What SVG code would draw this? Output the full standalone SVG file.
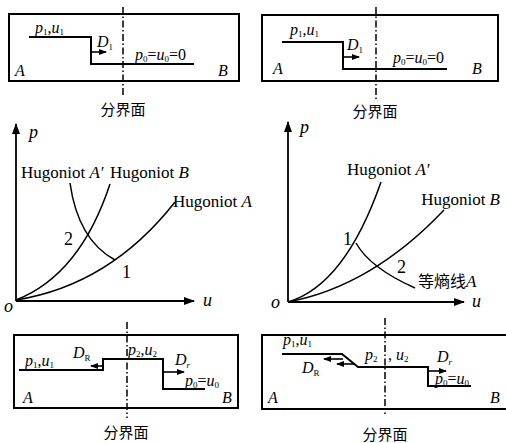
<svg xmlns="http://www.w3.org/2000/svg" width="506" height="443" viewBox="0 0 506 443" font-family="'Liberation Serif', 'Times New Roman', 'DejaVu Serif', serif">
<style>
text{font-family:'Liberation Serif','Times New Roman','DejaVu Serif',serif;fill:#000}
.v{font-size:16px;font-style:italic}
.s{font-size:9px;font-style:normal}
.n{font-size:17px}
.cn{font-family:'Noto Sans CJK SC','Noto Sans CJK JP',sans-serif;font-size:15px}
.box{fill:none;stroke:#000;stroke-width:2}
.step{fill:none;stroke:#000;stroke-width:2}
.dash{stroke:#000;stroke-width:1.5;stroke-dasharray:7 2.5 1.5 2.5}
.cur{fill:none;stroke:#000;stroke-width:1.5}
.arr{stroke:#000;stroke-width:1.6;marker-end:url(#ah)}
.ax{stroke:#000;stroke-width:1.8;marker-end:url(#axh)}
</style>
<defs>
<marker id="ah" markerUnits="userSpaceOnUse" markerWidth="8" markerHeight="6" refX="7" refY="3" orient="auto"><path d="M0,0 L8,3 L0,6 Z" fill="#000"/></marker>
<marker id="axh" markerUnits="userSpaceOnUse" markerWidth="11" markerHeight="8" refX="10" refY="4" orient="auto"><path d="M0,0 L11,4 L0,8 Z" fill="#000"/></marker>
</defs>

<!-- Top-left panel -->
<g id="panel-tl">
<rect class="box" x="9" y="14" width="230" height="67"/>
<line class="dash" x1="123" y1="7" x2="123" y2="95"/>
<path class="step" d="M29,37 H91 V64 H194"/>
<line class="arr" x1="91" y1="52" x2="106" y2="52"/>
<text x="35" y="33" class="v">p<tspan class="s" dy="2">1</tspan><tspan dy="-2" style="font-style:normal">,</tspan>u<tspan class="s" dy="2">1</tspan></text>
<text x="97" y="47" class="v">D<tspan class="s" dy="3">1</tspan></text>
<text x="135" y="60" class="v">p<tspan class="s" dy="2">0</tspan><tspan dy="-2" style="font-style:normal">=</tspan>u<tspan class="s" dy="2">0</tspan><tspan dy="-2" style="font-style:normal">=0</tspan></text>
<text x="15" y="76" class="v">A</text>
<text x="218" y="76" class="v">B</text>
<text x="123" y="115" class="cn" text-anchor="middle">分界面</text>
</g>

<!-- Top-right panel -->
<g id="panel-tr">
<rect class="box" x="262" y="15" width="236" height="66"/>
<line class="dash" x1="376" y1="7" x2="376" y2="101"/>
<path class="step" d="M282,42 H343 V69 H447"/>
<line class="arr" x1="343" y1="57" x2="359" y2="57"/>
<text x="290" y="35" class="v">p<tspan class="s" dy="2">1</tspan><tspan dy="-2" style="font-style:normal">,</tspan>u<tspan class="s" dy="2">1</tspan></text>
<text x="347" y="50" class="v">D<tspan class="s" dy="3">1</tspan></text>
<text x="393" y="63" class="v">p<tspan class="s" dy="2">0</tspan><tspan dy="-2" style="font-style:normal">=</tspan>u<tspan class="s" dy="2">0</tspan><tspan dy="-2" style="font-style:normal">=0</tspan></text>
<text x="273" y="74" class="v">A</text>
<text x="472" y="74" class="v">B</text>
<text x="375" y="117" class="cn" text-anchor="middle">分界面</text>
</g>

<!-- Left p-u graph -->
<g id="graph-left">
<line class="ax" x1="16" y1="301" x2="16" y2="124"/>
<line class="ax" x1="16" y1="301" x2="194" y2="301"/>
<text x="29" y="138" class="v" style="font-size:18px">p</text>
<text x="203" y="306" class="v" style="font-size:18px">u</text>
<text x="4" y="312" class="v" style="font-size:18px">o</text>
<path class="cur" d="M16,300 Q110,285 175,202"/>
<path class="cur" d="M16,300 Q80,275 110,184"/>
<path class="cur" d="M70,183 Q78,240 115,260"/>
<text x="21" y="178" class="n">Hugoniot <tspan class="v" style="font-size:17px">A′</tspan></text>
<text x="110" y="178" class="n">Hugoniot <tspan class="v" style="font-size:17px">B</tspan></text>
<text x="173" y="207" class="n">Hugoniot <tspan class="v" style="font-size:17px">A</tspan></text>
<text x="64" y="245" class="n" style="font-size:18px">2</text>
<text x="122" y="278" class="n" style="font-size:18px">1</text>
</g>

<!-- Right p-u graph -->
<g id="graph-right">
<line class="ax" x1="288" y1="302" x2="288" y2="122"/>
<line class="ax" x1="288" y1="302" x2="464" y2="302"/>
<text x="300" y="133" class="v" style="font-size:18px">p</text>
<text x="472" y="307" class="v" style="font-size:18px">u</text>
<text x="271" y="308" class="v" style="font-size:18px">o</text>
<path class="cur" d="M288,302 Q345,285 381,182"/>
<path class="cur" d="M288,302 Q372,286 444,210"/>
<path class="cur" d="M356,243 Q370,268 415,288"/>
<text x="347" y="175" class="n">Hugoniot <tspan class="v" style="font-size:17px">A′</tspan></text>
<text x="500" y="205" class="n" text-anchor="end">Hugoniot <tspan class="v" style="font-size:17px">B</tspan></text>
<text x="343" y="245" class="n" style="font-size:18px">1</text>
<text x="397" y="273" class="n" style="font-size:18px">2</text>
<text x="418" y="287"><tspan class="cn" style="font-size:16px">等熵线</tspan><tspan class="v" style="font-size:17px">A</tspan></text>
</g>

<!-- Bottom-left panel -->
<g id="panel-bl">
<rect class="box" x="14" y="335" width="224" height="73"/>
<line class="dash" x1="127" y1="322" x2="127" y2="418"/>
<path class="step" d="M19,370 H103 V359 H163 V389 H205"/>
<line class="arr" x1="103" y1="366" x2="91" y2="366"/>
<line class="arr" x1="163" y1="372" x2="184" y2="372"/>
<text x="25" y="366" class="v">p<tspan class="s" dy="2">1</tspan><tspan dy="-2" style="font-style:normal">,</tspan>u<tspan class="s" dy="2">1</tspan></text>
<text x="73" y="358" class="v">D<tspan class="s" dy="3">R</tspan></text>
<text x="128" y="355" class="v">p<tspan class="s" dy="2">2</tspan><tspan dy="-2" style="font-style:normal">,</tspan>u<tspan class="s" dy="2">2</tspan></text>
<text x="175" y="365" class="v">D<tspan class="s" dy="3" style="font-style:italic">r</tspan></text>
<text x="185" y="386" class="v">p<tspan class="s" dy="2">0</tspan><tspan dy="-2" style="font-style:normal">=</tspan>u<tspan class="s" dy="2">0</tspan></text>
<text x="23" y="403" class="v">A</text>
<text x="222" y="403" class="v">B</text>
<text x="126" y="438" class="cn" text-anchor="middle">分界面</text>
</g>

<!-- Bottom-right panel -->
<g id="panel-br">
<rect class="box" x="262" y="335" width="250" height="74"/>
<line class="dash" x1="385" y1="318" x2="385" y2="414"/>
<path class="step" d="M282,354 H342 L358,367 H428 V386 H471"/>
<line class="arr" x1="343" y1="359" x2="324" y2="359"/>
<line class="arr" x1="355" y1="364" x2="337" y2="364"/>
<line class="arr" x1="428" y1="371" x2="446" y2="371"/>
<text x="283" y="345" class="v">p<tspan class="s" dy="2">1</tspan><tspan dy="-2" style="font-style:normal">,</tspan>u<tspan class="s" dy="2">1</tspan></text>
<text x="302" y="373" class="v">D<tspan class="s" dy="3">R</tspan></text>
<text x="365" y="360" class="v">p<tspan class="s" dy="2">2</tspan></text>
<text x="388" y="360" class="v"><tspan style="font-style:normal">, </tspan>u<tspan class="s" dy="2">2</tspan></text>
<text x="437" y="362" class="v">D<tspan class="s" dy="3" style="font-style:italic">r</tspan></text>
<text x="435" y="384" class="v">p<tspan class="s" dy="2">0</tspan><tspan dy="-2" style="font-style:normal">=</tspan>u<tspan class="s" dy="2">0</tspan></text>
<text x="268" y="403" class="v">A</text>
<text x="490" y="403" class="v">B</text>
<text x="385" y="440" class="cn" text-anchor="middle">分界面</text>
</g>
</svg>
